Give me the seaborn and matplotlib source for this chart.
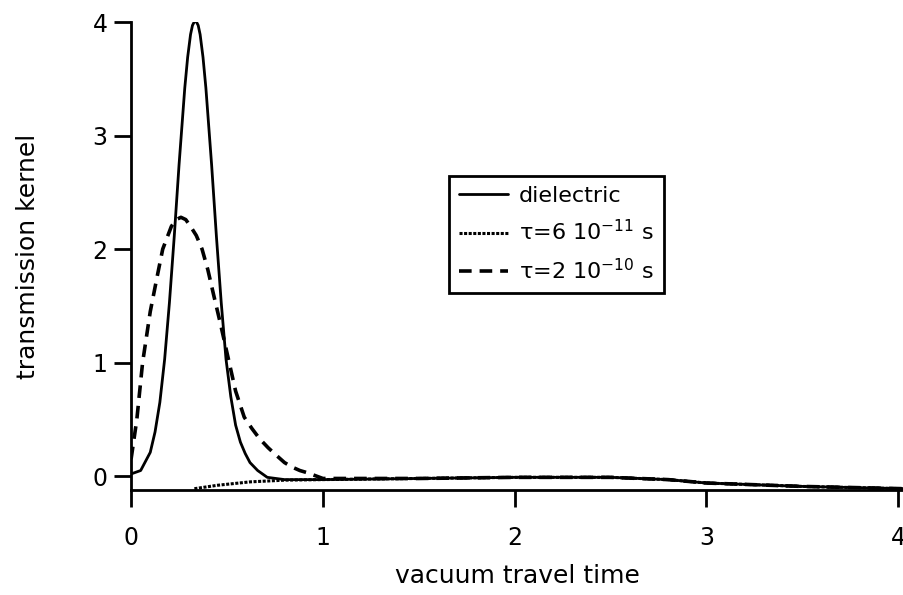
import matplotlib
matplotlib.use('Agg')
import matplotlib.pyplot as plt
import seaborn as sns

# values
diel_t = [0.0, 0.05, 0.10, 0.125, 0.15, 0.175, 0.20, 0.225, 0.25, 0.28, 0.295, 0.31, 0.32,
          0.335, 0.35, 0.36, 0.375, 0.39, 0.42, 0.445, 0.47, 0.495, 0.52, 0.545, 0.57,
          0.595, 0.62, 0.66, 0.71, 0.80, 1.0, 1.5, 2.0, 2.5, 2.8, 3.0, 3.5, 4.03]
diel_k = [0.02, 0.05, 0.21, 0.39, 0.65, 1.03, 1.53, 2.11, 2.74, 3.42, 3.69, 3.89, 3.97,
          4.02, 3.97, 3.89, 3.69, 3.42, 2.74, 2.11, 1.53, 1.03, 0.70, 0.45, 0.30,
          0.20, 0.12, 0.05, -0.01, -0.03, -0.03, -0.02, -0.01, -0.01, -0.03, -0.06, -0.09, -0.11]

tau1_t = [0.33, 0.45, 0.62, 0.80, 1.0, 1.5, 2.0, 2.5, 2.8, 3.0, 3.5, 4.03]
tau1_k = [-0.11, -0.08, -0.05, -0.035, -0.03, -0.02, -0.01, -0.01, -0.03, -0.06, -0.09, -0.11]

tau2_t = [0.0, 0.03, 0.06, 0.10, 0.135, 0.165, 0.21, 0.235, 0.26, 0.285, 0.31, 0.34,
          0.37, 0.40, 0.43, 0.465, 0.505, 0.545, 0.59, 0.63, 0.67, 0.715, 0.76, 0.80,
          0.84, 0.88, 0.92, 1.0, 1.5, 2.0, 2.5, 2.8, 3.0, 3.5, 4.03]
tau2_k = [0.15, 0.5, 1.0, 1.45, 1.75, 2.0, 2.2, 2.26, 2.28, 2.26, 2.2, 2.12,
          2.0, 1.82, 1.6, 1.35, 1.05, 0.75, 0.52, 0.42, 0.33, 0.25, 0.18, 0.12,
          0.08, 0.05, 0.03, -0.02, -0.02, -0.01, -0.01, -0.03, -0.06, -0.09, -0.11]

labels = ['dielectric', r'τ=6 10$^{-11}$ s', r'τ=2 10$^{-10}$ s']
x_ticks = [0, 1, 2, 3, 4]
y_ticks = [0, 1, 2, 3, 4]

sns.set_style('ticks')
plt.rcParams['font.family'] = ['DejaVu Sans']
plt.rcParams['mathtext.fontset'] = 'dejavusans'
plt.rcParams['text.color'] = 'black'
plt.rcParams['axes.labelcolor'] = 'black'

fig = plt.figure(figsize=(9.04, 5.95), dpi=100)
ax = fig.add_axes([0.145, 0.176, 0.855, 0.787])

sns.lineplot(x=diel_t, y=diel_k, color='black', linewidth=2.0, label=labels[0], ax=ax)
sns.lineplot(x=tau1_t, y=tau1_k, color='black', linewidth=2.2, linestyle=(0, (1, 0.5)),
             label=labels[1], ax=ax)
sns.lineplot(x=tau2_t, y=tau2_k, color='black', linewidth=2.6, linestyle=(0, (3.5, 2.2)),
             label=labels[2], ax=ax)

ax.set_xlim(0, 4.03)
ax.set_ylim(-0.124, 4.0)
ax.set_xticks(x_ticks)
ax.set_yticks(y_ticks)
ax.tick_params(axis='both', direction='out', length=12, width=2, labelsize=17,
               colors='black')
ax.tick_params(axis='x', pad=14)
ax.tick_params(axis='y', pad=5)
for s in ['left', 'bottom']:
    ax.spines[s].set_linewidth(2)
    ax.spines[s].set_color('black')
sns.despine(ax=ax)

ax.set_xlabel('vacuum travel time', fontsize=18, labelpad=10)
ax.set_ylabel('transmission kernel', fontsize=18, labelpad=38)

leg = ax.legend(loc='upper left', bbox_to_anchor=(0.411, 0.671), fontsize=16,
                frameon=True, fancybox=False, handlelength=2.2, handletextpad=0.5,
                borderpad=0.45, labelspacing=0.6, borderaxespad=0, framealpha=1)
leg.get_frame().set_edgecolor('black')
leg.get_frame().set_linewidth(2)

fig.savefig('out.png', dpi=100)
